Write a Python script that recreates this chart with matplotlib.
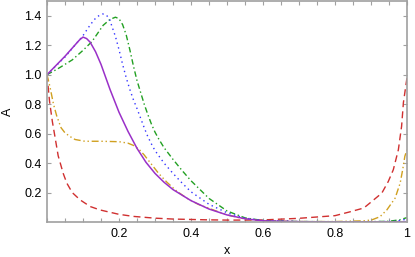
import matplotlib
matplotlib.use("Agg")
import matplotlib.pyplot as plt
from matplotlib.ticker import MultipleLocator, FixedLocator

# ---- data ----
x_purple = [0, 0.05, 0.09, 0.1, 0.11, 0.12, 0.135, 0.15, 0.175, 0.2, 0.225, 0.25, 0.275,
            0.3, 0.325, 0.35, 0.4, 0.45, 0.5, 0.55, 0.6, 0.7, 0.8, 0.9, 1.0]
y_purple = [1.0, 1.125, 1.235, 1.255, 1.245, 1.22, 1.155, 1.07, 0.9, 0.745, 0.615, 0.5, 0.405,
            0.33, 0.27, 0.22, 0.145, 0.088, 0.048, 0.022, 0.008, 0.002, 0.001, 0.001, 0.002]

x_blue = [0, 0.05, 0.1, 0.115, 0.13, 0.14, 0.155, 0.165, 0.175, 0.18, 0.19, 0.2, 0.21, 0.22,
          0.23, 0.24, 0.25, 0.26, 0.27, 0.28, 0.29, 0.3, 0.325, 0.35, 0.375, 0.4, 0.45, 0.5,
          0.55, 0.6, 0.7, 0.8, 0.9, 0.97, 1.0]
y_blue = [1.0, 1.12, 1.265, 1.32, 1.37, 1.395, 1.412, 1.405, 1.37, 1.33, 1.26, 1.17, 1.07, 0.98,
          0.9, 0.83, 0.77, 0.705, 0.64, 0.58, 0.53, 0.485, 0.4, 0.33, 0.265, 0.205, 0.12, 0.063,
          0.026, 0.01, 0.003, 0.002, 0.002, 0.005, 0.02]

x_green = [0, 0.03, 0.07, 0.1, 0.125, 0.156, 0.175, 0.19, 0.2, 0.21, 0.22, 0.23, 0.24, 0.25,
           0.26, 0.27, 0.28, 0.29, 0.3, 0.31, 0.325, 0.35, 0.375, 0.4, 0.45, 0.5, 0.55, 0.6,
           0.7, 0.8, 0.9, 0.95, 0.98, 1.0]
y_green = [1.0, 1.04, 1.10, 1.165, 1.225, 1.335, 1.375, 1.39, 1.38, 1.34, 1.27, 1.17, 1.06, 0.96,
           0.88, 0.8, 0.73, 0.665, 0.61, 0.565, 0.505, 0.425, 0.35, 0.28, 0.16, 0.075, 0.028, 0.01,
           0.003, 0.002, 0.002, 0.005, 0.015, 0.03]

x_red = [0, 0.007, 0.015, 0.022, 0.031, 0.045, 0.055, 0.07, 0.092, 0.12, 0.147, 0.2,
         0.24, 0.3, 0.35, 0.44, 0.5, 0.55, 0.6, 0.7, 0.8, 0.84, 0.88, 0.9, 0.93, 0.948,
         0.962, 0.976, 0.985, 0.99, 1.0]
y_red = [1.0, 0.82, 0.68, 0.58, 0.45, 0.33, 0.264, 0.2, 0.15, 0.105, 0.082, 0.052,
         0.038, 0.026, 0.02, 0.015, 0.013, 0.013, 0.014, 0.025, 0.043, 0.068, 0.095, 0.135,
         0.196, 0.275, 0.355, 0.49, 0.65, 0.81, 0.98]

x_orange = [0, 0.008, 0.018, 0.027, 0.039, 0.05, 0.064, 0.078, 0.105, 0.15, 0.2, 0.225,
            0.24, 0.255, 0.27, 0.286, 0.31, 0.333, 0.36, 0.388, 0.42, 0.453, 0.5, 0.55, 0.6,
            0.7, 0.8, 0.88, 0.902, 0.925, 0.944, 0.967, 0.981, 0.988, 0.994, 1.0]
y_orange = [1.0, 0.92, 0.8, 0.72, 0.64, 0.605, 0.58, 0.56, 0.548, 0.548, 0.545, 0.535,
            0.52, 0.495, 0.455, 0.405, 0.33, 0.27, 0.21, 0.162, 0.12, 0.09, 0.048, 0.02, 0.008,
            0.003, 0.003, 0.008, 0.014, 0.036, 0.082, 0.162, 0.264, 0.355, 0.446, 0.49]

x_ticks = [0.2, 0.4, 0.6, 0.8, 1.0]
x_ticklabels = ["0.2", "0.4", "0.6", "0.8", "1"]
y_ticks = [0.2, 0.4, 0.6, 0.8, 1.0, 1.2, 1.4]
y_ticklabels = ["0.2", "0.4", "0.6", "0.8", "1.0", "1.2", "1.4"]

plt.rcParams['font.family'] = ['Liberation Sans', 'DejaVu Sans']

fig = plt.figure(figsize=(4.15, 2.57), dpi=100)
ax = fig.add_axes([47/415, 35/257, 360/415, 221/257])

lw = 1.0
ax.plot(x_red, y_red, color="#d03030", lw=lw, dashes=(5, 3))
ax.plot(x_orange, y_orange, color="#d0a020", lw=lw, dashes=(5, 2, 1, 2, 1, 2))
ax.plot(x_green, y_green, color="#22a022", lw=lw, dashes=(4, 2, 1, 2))
ax.plot(x_blue, y_blue, color="#3535ff", lw=lw, dashes=(1, 2.5))
ax.plot(x_purple, y_purple, color="#9a30c8", lw=1.1)

ax.set_xlim(0, 1)
ax.set_ylim(0, 1.5)

ax.xaxis.set_major_locator(FixedLocator(x_ticks))
ax.set_xticklabels(x_ticklabels)
ax.xaxis.set_minor_locator(MultipleLocator(0.05))
ax.yaxis.set_major_locator(FixedLocator(y_ticks))
ax.set_yticklabels(y_ticklabels)

gray = "#a0a0a0"
for s in ax.spines.values():
    s.set_color(gray)
    s.set_linewidth(1.2)
ax.tick_params(which="both", direction="in", color=gray, top=True, right=True,
               labelsize=9, pad=4)
ax.tick_params(which="major", length=3, width=0.8)
ax.tick_params(which="minor", length=3, width=0.8)

ax.set_xlabel("x", fontsize=9, labelpad=4)
ax.set_ylabel("A", fontsize=9, labelpad=7)

fig.savefig("out.png", dpi=100)
